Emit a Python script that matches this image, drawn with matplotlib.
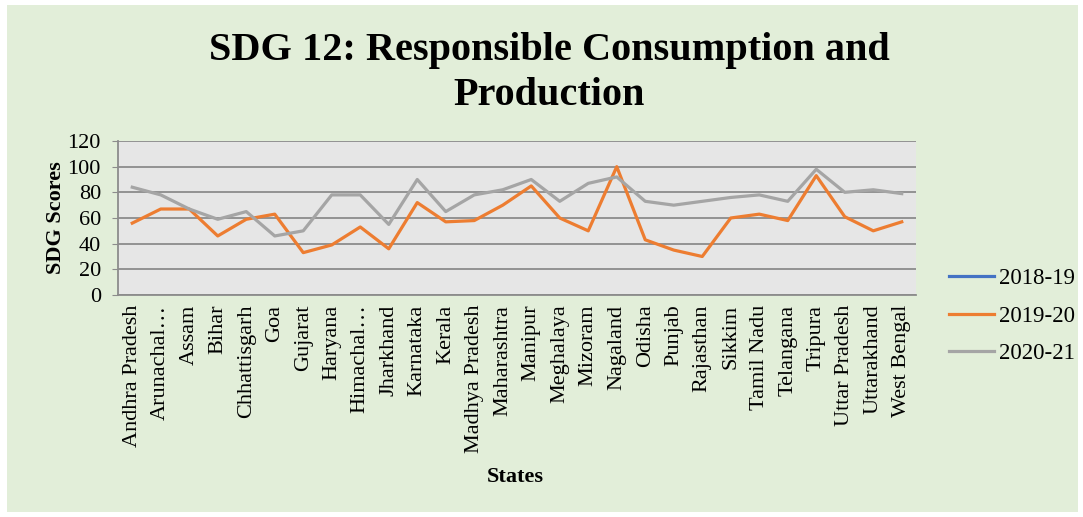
import matplotlib
matplotlib.use("Agg")
import matplotlib.pyplot as plt
from matplotlib.patches import Rectangle

states = ["Andhra Pradesh", "Arunachal…", "Assam", "Bihar", "Chhattisgarh", "Goa",
          "Gujarat", "Haryana", "Himachal…", "Jharkhand", "Karnataka", "Kerala",
          "Madhya Pradesh", "Maharashtra", "Manipur", "Meghalaya", "Mizoram", "Nagaland",
          "Odisha", "Punjab", "Rajasthan", "Sikkim", "Tamil Nadu", "Telangana", "Tripura",
          "Uttar Pradesh", "Uttarakhand", "West Bengal"]

# 2018-19 has no values shown in the chart (legend entry only)
score_2018_19 = []
score_2019_20 = [56, 67, 67, 46, 59, 63, 33, 39, 53, 36, 72, 57, 58, 70, 85, 60, 50, 100,
                 43, 35, 30, 60, 63, 58, 93, 61, 50, 57]
score_2020_21 = [84, 78, 67, 59, 65, 46, 50, 78, 78, 55, 90, 65, 78, 82, 90, 73, 87, 92,
                 73, 70, 73, 76, 78, 73, 98, 80, 82, 79]

years = ["2018-19", "2019-20", "2020-21"]
colors = ["#4472c4", "#ed7d31", "#a5a5a5"]

serif = ["Liberation Serif", "DejaVu Serif"]
plt.rcParams["font.family"] = serif

fig = plt.figure(figsize=(10.83, 5.17), dpi=100, facecolor="white")
fig.patches.append(Rectangle((7 / 1083, 5 / 517), 1071 / 1083, 507 / 517,
                             transform=fig.transFigure, facecolor="#e2eed9",
                             edgecolor="none", zorder=-10))

ax = fig.add_axes([118 / 1083, 1 - 295 / 517, 798 / 1083, 154 / 517])
ax.set_facecolor("#e6e6e6")

x = list(range(len(states)))
ax.plot(x[:len(score_2018_19)], score_2018_19, color=colors[0], lw=2.3, label=years[0])
ax.plot(x, score_2019_20, color=colors[1], lw=2.3, label=years[1])
ax.plot(x, score_2020_21, color=colors[2], lw=2.3, label=years[2])

ax.set_xlim(-0.5, len(states) - 0.5)
ax.set_ylim(0, 120)
ax.set_yticks(range(0, 121, 20))
ax.yaxis.grid(True, color="#8c8c8c", lw=1.3)
ax.set_axisbelow(True)
ax.set_xticks(x)
ax.set_xticklabels(states, rotation=90, fontsize=16)
ax.tick_params(axis="x", length=0, pad=7)
ax.tick_params(axis="y", labelsize=16, length=4.3, color="#8c8c8c", pad=8)
for sp in ["top", "right"]:
    ax.spines[sp].set_visible(False)
for sp in ["left", "bottom"]:
    ax.spines[sp].set_color("#8c8c8c")
    ax.spines[sp].set_linewidth(1.3)

ax.set_ylabel("SDG Scores", fontsize=16, fontweight="bold", labelpad=1)
fig.text(515 / 1083, 1 - 477 / 517, "States", fontsize=16, fontweight="bold",
         ha="center", va="center")

fig.text(549 / 1083, 1 - 73 / 517, "SDG 12: Responsible Consumption and\nProduction",
         fontsize=29, fontweight="bold", ha="center", va="center", linespacing=1.3)

handles, labels = ax.get_legend_handles_labels()
fig.legend(handles, labels, loc="center left", bbox_to_anchor=(928 / 1083, 1 - 316 / 517),
           frameon=False, fontsize=16.5, handlelength=2.0, labelspacing=0.72,
           handletextpad=0.2)

fig.savefig("out.png", dpi=100, facecolor=fig.get_facecolor())
